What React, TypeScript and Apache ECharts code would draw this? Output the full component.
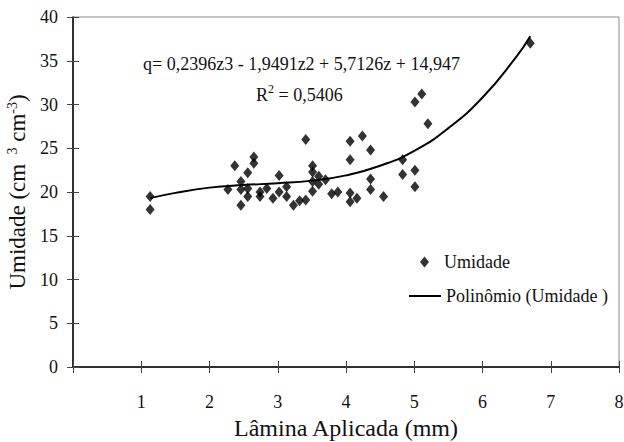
import React, { useEffect, useRef } from "react";
import * as echarts from "echarts";

const pointX = [1.13, 1.13, 2.27, 2.37, 2.46, 2.46, 2.46, 2.56, 2.56, 2.56, 2.65, 2.65, 2.74, 2.74, 2.84, 2.93, 3.02, 3.02, 3.13, 3.13, 3.23, 3.32, 3.41, 3.41, 3.51, 3.51, 3.51, 3.51, 3.6, 3.6, 3.7, 3.79, 3.88, 4.06, 4.06, 4.06, 4.06, 4.16, 4.24, 4.36, 4.36, 4.36, 4.55, 4.83, 4.83, 5.01, 5.11, 5.01, 5.01, 5.2, 6.7];
const pointY = [19.5, 18.0, 20.3, 23.0, 21.2, 20.3, 18.5, 22.2, 20.4, 19.5, 24.0, 23.3, 20.0, 19.5, 20.4, 19.3, 21.9, 20.0, 20.6, 19.5, 18.5, 19.0, 19.1, 26.0, 23.0, 22.3, 21.2, 20.1, 21.8, 20.9, 21.4, 19.8, 20.0, 25.8, 23.7, 19.9, 18.9, 19.3, 26.4, 24.8, 21.5, 20.3, 19.5, 23.7, 22.0, 30.3, 31.2, 22.5, 20.6, 27.8, 37.0];

const trendX = [1.13, 1.5, 2, 2.5, 3, 3.5, 4, 4.5, 5, 5.5, 6, 6.5, 6.7];
const trendY = [19.3, 19.9, 20.5, 20.8, 21.0, 21.3, 21.9, 23.0, 24.7, 27.3, 30.8, 35.5, 37.8];

const xTicks = [0, 1, 2, 3, 4, 5, 6, 7, 8];
const yTicks = [0, 5, 10, 15, 20, 25, 30, 35, 40];

const seriesNames = ["Umidade", "Polinômio (Umidade )"];
const equationText = "q= 0,2396z3 - 1,9491z2 + 5,7126z + 14,947";
const r2Value = "0,5406";

const FONT = "Liberation Serif";

export default function App() {
  const ref = useRef<HTMLDivElement>(null);
  useEffect(() => {
    if (!ref.current) return;
    const chart = echarts.init(ref.current, null, { renderer: "svg" });
    const scatterData = pointX.map((x, i) => [x, pointY[i]]);
    const lineData = trendX.map((x, i) => [x, trendY[i]]);
    const xMin = xTicks[0];
    const xMax = xTicks[xTicks.length - 1];
    const yMin = yTicks[0];
    const yMax = yTicks[yTicks.length - 1];
    const baseX = {
      type: "value",
      min: xMin,
      max: xMax,
      interval: 1,
      position: "bottom",
      splitLine: { show: false },
    };
    const baseY = {
      type: "value",
      min: yMin,
      max: yMax,
      interval: 5,
      position: "left",
      splitLine: { show: false },
    };
    const legendText = { fontFamily: FONT, fontSize: 18, color: "#111" };
    chart.setOption({
      animation: false,
      backgroundColor: "#fff",
      textStyle: { fontFamily: FONT },
      grid: {
        left: 73,
        right: 5,
        top: 17,
        bottom: 75,
        show: true,
        borderColor: "#8a8a8a",
        borderWidth: 1,
        backgroundColor: "transparent",
        containLabel: false,
        outerBoundsMode: "none",
      },
      xAxis: [
        {
          ...baseX,
          name: "Lâmina Aplicada (mm)",
          nameLocation: "middle",
          nameGap: 48,
          nameTextStyle: { fontFamily: FONT, fontSize: 24, color: "#111" },
          axisLine: { show: true, lineStyle: { color: "#000", width: 1.5 } },
          axisTick: { show: true, inside: false, length: 6, lineStyle: { color: "#444", width: 1 } },
          axisLabel: {
            margin: 26,
            fontFamily: FONT,
            fontSize: 18,
            color: "#111",
            formatter: (v: number) => (v === xMin ? "" : String(v)),
          },
        },
        {
          ...baseX,
          axisLine: { show: false },
          axisTick: { show: true, inside: true, length: 6, lineStyle: { color: "#444", width: 1 } },
          axisLabel: { show: false },
        },
      ],
      yAxis: [
        {
          ...baseY,
          name: "{a|Umidade (cm }{s| 3}{a| cm}{s|-3}{a|)}",
          nameLocation: "middle",
          nameGap: 41,
          nameTextStyle: {
            fontFamily: FONT,
            fontSize: 23,
            color: "#111",
            rich: {
              a: { fontFamily: FONT, fontSize: 23, color: "#111", verticalAlign: "bottom", lineHeight: 24 },
              s: { fontFamily: FONT, fontSize: 14, color: "#111", verticalAlign: "top", lineHeight: 24 },
            },
          },
          axisLine: { show: true, lineStyle: { color: "#000", width: 1.5 } },
          axisTick: { show: true, inside: false, length: 6, lineStyle: { color: "#444", width: 1 } },
          axisLabel: { margin: 15, fontFamily: FONT, fontSize: 18, color: "#111" },
        },
        {
          ...baseY,
          axisLine: { show: false },
          axisTick: { show: true, inside: true, length: 6, lineStyle: { color: "#444", width: 1 } },
          axisLabel: { show: false },
        },
      ],
      legend: [
        {
          left: 415,
          top: 248,
          itemWidth: 9,
          itemHeight: 11,
          textStyle: { ...legendText, padding: [0, 0, 0, 10] },
          data: [{ name: seriesNames[0], icon: "diamond" }],
        },
        {
          left: 404,
          top: 282,
          itemWidth: 32,
          itemHeight: 2,
          textStyle: legendText,
          data: [{ name: seriesNames[1], icon: "rect" }],
        },
      ],
      series: [
        {
          name: seriesNames[0],
          type: "scatter",
          xAxisIndex: 0,
          yAxisIndex: 0,
          symbol: "diamond",
          symbolSize: [9, 11],
          itemStyle: { color: "#000" },
          data: scatterData,
          z: 3,
        },
        {
          name: seriesNames[1],
          type: "line",
          xAxisIndex: 0,
          yAxisIndex: 0,
          smooth: true,
          showSymbol: false,
          symbol: "none",
          lineStyle: { color: "#000", width: 2 },
          itemStyle: { color: "#000" },
          data: lineData,
          z: 2,
        },
      ],
      graphic: [
        {
          type: "text",
          left: 143,
          top: 55,
          style: {
            text: equationText,
            fontFamily: FONT,
            fontSize: 18,
            fill: "#111",
          },
        },
        {
          type: "text",
          left: 256,
          top: 83,
          style: {
            text: "{n|R}{s|2}{n| = " + r2Value + "}",
            fontFamily: FONT,
            fill: "#111",
            rich: {
              n: { fontFamily: FONT, fontSize: 18, fill: "#111", verticalAlign: "bottom", lineHeight: 21 },
              s: { fontFamily: FONT, fontSize: 12, fill: "#111", verticalAlign: "top", lineHeight: 21 },
            },
          },
        },
      ],
    });
    return () => chart.dispose();
  }, []);
  return <div ref={ref} style={{ position: "fixed", left: 0, top: 0, width: 624, height: 442 }} />;
}
